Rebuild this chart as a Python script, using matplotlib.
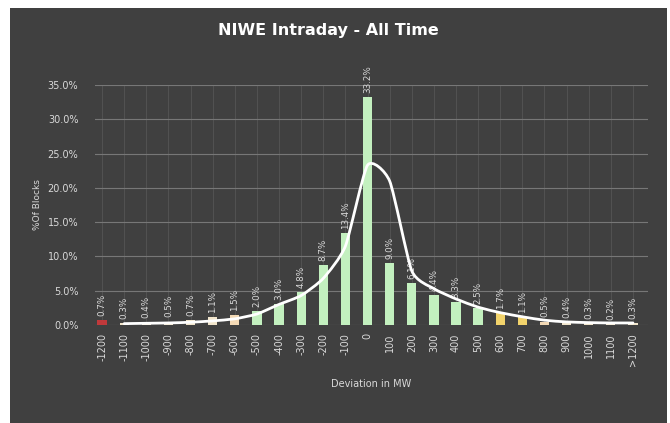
import numpy as np
import matplotlib.pyplot as plt
from matplotlib.path import Path
from matplotlib.patches import PathPatch, Rectangle

# deviation buckets (MW) and share of blocks in each (%)
categories = ["-1200", "-1100", "-1000", "-900", "-800", "-700", "-600", "-500",
              "-400", "-300", "-200", "-100", "0", "100", "200", "300", "400",
              "500", "600", "700", "800", "900", "1000", "1100", ">1200"]
share = [0.7, 0.3, 0.4, 0.5, 0.7, 1.1, 1.5, 2.0, 3.0, 4.8, 8.7, 13.4, 33.2,
         9.0, 6.1, 4.4, 3.3, 2.5, 1.7, 1.1, 0.5, 0.4, 0.3, 0.2, 0.3]
# trend line, starts from the second bucket
trend = [0.2, 0.25, 0.3, 0.4, 0.6, 0.9, 1.6, 3.0, 4.3, 6.8, 11.5, 23.3,
         21.0, 7.9, 5.3, 3.8, 2.6, 1.8, 1.2, 0.7, 0.45, 0.35, 0.3, 0.3]

RED = "#c0393b"
PEACH = "#f3d9b5"
CREAM = "#f2e6cc"
GREEN = "#c3f0bf"
YELLOW = "#f2d36b"
bar_colors = ([RED] + [CREAM] * 4 + [CREAM, PEACH] + [GREEN] * 11 +
              [YELLOW, YELLOW, PEACH] + [CREAM] * 4)

BG = "#404040"
TXT = "#d9d9d9"

fig = plt.figure(figsize=(6.7, 4.23), dpi=100)
fig.patch.set_facecolor("white")
fig.add_artist(Rectangle((10 / 670, 0), 657 / 670, 1 - 8 / 423,
                         transform=fig.transFigure, facecolor=BG,
                         edgecolor="none", zorder=-10))

ax = fig.add_axes([95 / 670, 1 - 325 / 423, 553 / 670, 240 / 423])
ax.set_zorder(1)
ax.set_facecolor(BG)
for s in ax.spines.values():
    s.set_visible(False)

x = np.arange(len(categories))
bars = ax.bar(x, share, width=0.42, color=bar_colors, zorder=3)

for xi, v in zip(x, share):
    ax.text(xi, v + 0.6, f"{v:.1f}%", rotation=90, ha="center", va="bottom",
            color=TXT, fontsize=6.3, zorder=4)

# smoothed trend line (bezier through the points, low tension)
k = 1 / 10
tx = x[1:].astype(float)
ty = np.array(trend, dtype=float)
verts = [(tx[0], ty[0])]
codes = [Path.MOVETO]
for i in range(len(tx) - 1):
    p0 = (tx[i - 1], ty[i - 1]) if i > 0 else (tx[i], ty[i])
    p1 = (tx[i], ty[i])
    p2 = (tx[i + 1], ty[i + 1])
    p3 = (tx[i + 2], ty[i + 2]) if i + 2 < len(tx) else p2
    c1 = (p1[0] + (p2[0] - p0[0]) * k, p1[1] + (p2[1] - p0[1]) * k)
    c2 = (p2[0] - (p3[0] - p1[0]) * k, p2[1] - (p3[1] - p1[1]) * k)
    verts += [c1, c2, p2]
    codes += [Path.CURVE4] * 3
ax.add_patch(PathPatch(Path(verts, codes), facecolor="none", edgecolor="white",
                       lw=2, zorder=5, capstyle="round", joinstyle="round"))

ax.set_xlim(-0.32, 24.68)
ax.set_ylim(0, 35)
ax.set_yticks(np.arange(0, 36, 5))
ax.set_yticklabels([f"{t:.1f}%" for t in np.arange(0, 36, 5)])
ax.set_xticks(x)
ax.set_xticklabels(categories, rotation=90)
ax.tick_params(colors=TXT, labelsize=7, length=0)
ax.tick_params(axis="x", pad=6)
ax.tick_params(axis="y", pad=12)
ax.yaxis.grid(True, color="#777777", lw=0.8, zorder=0)
ax.xaxis.grid(True, color="#555555", lw=0.6, zorder=0)
ax.set_axisbelow(True)

ax.set_ylabel("%Of Blocks", color=TXT, fontsize=6.5, labelpad=4)
ax.set_xlabel("Deviation in MW", color=TXT, fontsize=7, labelpad=9)

fig.text(0.49, 1 - 30 / 423, "NIWE Intraday - All Time", ha="center",
         va="center", color="white", fontsize=11.5, fontweight="bold")

fig.savefig("out.png", dpi=100, facecolor=fig.get_facecolor())
